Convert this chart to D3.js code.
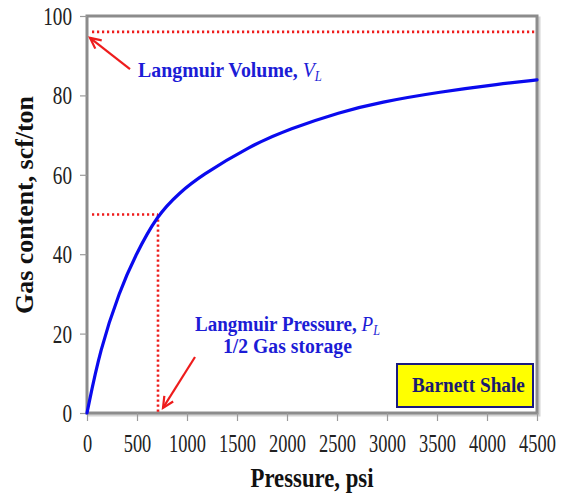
<!DOCTYPE html>
<html>
<head>
<meta charset="utf-8">
<script src="https://cdn.jsdelivr.net/npm/d3@7"></script>
<style>
  html, body { margin: 0; padding: 0; background: #fff; }
  svg { display: block; }
  svg text { font-family: "Liberation Serif", "Times New Roman", serif; }
</style>
</head>
<body>
<svg id="chart" width="562" height="498"></svg>
<script>
// Barnett Shale Langmuir isotherm: gas content vs pressure
const pressure = [0, 130, 330, 480, 700, 930, 1130, 1630, 2030, 2530, 2930, 3530, 4130, 4500];
const gasContent = [0, 16, 31, 39.5, 49.8, 55.6, 59.6, 67.3, 71.6, 75.8, 78.3, 80.9, 82.9, 83.9];

const xTicks = [0, 500, 1000, 1500, 2000, 2500, 3000, 3500, 4000, 4500];
const yTicks = [0, 20, 40, 60, 80, 100];

const langmuirVolume = 96;    // V_L, scf/ton
const langmuirPressure = 710; // P_L, psi
const halfStorage = 50;       // gas content at P_L

const svg = d3.select("#chart");
const plot = { left: 87, right: 537, top: 16, bottom: 413 };

const x = d3.scaleLinear().domain([0, 4500]).range([plot.left, plot.right]);
const y = d3.scaleLinear().domain([0, 100]).range([plot.bottom, plot.top]);

const serif = "'Liberation Serif', 'Times New Roman', serif";

// squeeze a text element horizontally to a given width around its anchor
function squeeze(sel, px, py, w, rotate) {
  const natural = sel.node().getComputedTextLength();
  const k = w / natural;
  sel.attr("x", null).attr("y", null)
    .attr("transform", `translate(${px},${py})` + (rotate ? ` rotate(${rotate})` : "") + ` scale(${k},1)`);
  return sel;
}

// frame with a soft shadow
svg.append("rect")
  .attr("x", plot.left + 2).attr("y", plot.top + 2)
  .attr("width", plot.right - plot.left).attr("height", plot.bottom - plot.top)
  .attr("fill", "none").attr("stroke", "#d4d4d4").attr("stroke-width", 3);
svg.append("rect")
  .attr("x", plot.left).attr("y", plot.top)
  .attr("width", plot.right - plot.left).attr("height", plot.bottom - plot.top)
  .attr("fill", "#fff").attr("stroke", "#8c8c8c").attr("stroke-width", 3);

// axes
const xAxis = svg.append("g")
  .attr("transform", `translate(0,${plot.bottom})`)
  .call(d3.axisBottom(x).tickValues(xTicks).tickSize(8).tickFormat(d3.format("d")));
const yAxis = svg.append("g")
  .attr("transform", `translate(${plot.left},0)`)
  .call(d3.axisLeft(y).tickValues(yTicks).tickSize(7).tickFormat(d3.format("d")));

[xAxis, yAxis].forEach(g => {
  g.attr("font-family", serif);
  g.select(".domain").remove();
  g.selectAll(".tick line").attr("stroke", "#9a9a9a").attr("stroke-width", 1.2);
  g.selectAll(".tick text")
    .attr("fill", "#222")
    .attr("font-family", serif)
    .attr("font-size", 25)
    .attr("dy", null);
});
xAxis.selectAll(".tick text").each(function () {
  const t = d3.select(this);
  squeeze(t, 0, 39, t.text().length * 9.2);
});
yAxis.selectAll(".tick text").each(function () {
  const t = d3.select(this);
  squeeze(t, -15, 8.5, t.text().length * 9.6);
});

// axis titles
squeeze(svg.append("text")
  .attr("text-anchor", "middle")
  .attr("font-weight", "bold").attr("font-size", 27).attr("fill", "#111")
  .text("Pressure, psi"), (plot.left + plot.right) / 2, 487, 123);

squeeze(svg.append("text")
  .attr("text-anchor", "middle")
  .attr("font-weight", "bold").attr("font-size", 26).attr("fill", "#111")
  .text("Gas content, scf/ton"), 33, 205, 218, -90);

// Langmuir reference lines
const red = "#ee1c1c";
function refLine(x1, y1, x2, y2) {
  return svg.append("line")
    .attr("x1", x1).attr("y1", y1).attr("x2", x2).attr("y2", y2)
    .attr("stroke", red).attr("stroke-width", 2.6).attr("stroke-dasharray", "2.2,2.8");
}
refLine(x(50), y(langmuirVolume), x(4500), y(langmuirVolume));
refLine(x(50), y(halfStorage), x(langmuirPressure), y(halfStorage));
refLine(x(langmuirPressure), y(halfStorage), x(langmuirPressure), y(0));

// isotherm curve
const line = d3.line()
  .x((d, i) => x(pressure[i]))
  .y((d, i) => y(gasContent[i]))
  .curve(d3.curveBasis);
svg.append("path")
  .datum(pressure)
  .attr("d", line)
  .attr("fill", "none")
  .attr("stroke", "#0a0aee")
  .attr("stroke-width", 3.2)
  .attr("stroke-linecap", "round");

// annotation arrows (tail -> head, in data units)
const arrows = [
  { from: [430, 86.6], to: [30, 94.5] },
  { from: [1080, 14.1], to: [760, 1.3] }
];
arrows.forEach(a => {
  const x1 = x(a.from[0]), y1 = y(a.from[1]), x2 = x(a.to[0]), y2 = y(a.to[1]);
  svg.append("line").attr("x1", x1).attr("y1", y1).attr("x2", x2).attr("y2", y2)
    .attr("stroke", red).attr("stroke-width", 2.2);
  const ang = Math.atan2(y2 - y1, x2 - x1);
  const len = 12, spread = 0.45;
  const pts = [
    [x2 - len * Math.cos(ang - spread), y2 - len * Math.sin(ang - spread)],
    [x2, y2],
    [x2 - len * Math.cos(ang + spread), y2 - len * Math.sin(ang + spread)]
  ];
  svg.append("path").attr("d", d3.line()(pts))
    .attr("fill", "none").attr("stroke", red).attr("stroke-width", 2.2);
});

// annotation text: bold words followed by an italic symbol with subscript
const blue = "#1c1cd6";
function symbolLabel(px, py, words, sym, sub, w) {
  const t = svg.append("text").attr("fill", blue).attr("font-size", 22);
  t.append("tspan").attr("font-weight", "bold").text(words + " ");
  t.append("tspan").attr("font-style", "italic").text(sym);
  t.append("tspan").attr("font-style", "italic").attr("font-size", 14).attr("dy", 4).text(sub);
  return squeeze(t, px, py, w);
}
function plainLabel(px, py, str, w) {
  const t = svg.append("text").attr("fill", blue).attr("font-size", 22)
    .attr("font-weight", "bold").text(str);
  return squeeze(t, px, py, w);
}
symbolLabel(138, 77, "Langmuir Volume,", "V", "L", 184);
symbolLabel(195, 331, "Langmuir Pressure,", "P", "L", 185);
plainLabel(223, 353, "1/2 Gas storage", 129);

// legend tag
svg.append("rect")
  .attr("x", 397).attr("y", 364).attr("width", 136).attr("height", 43)
  .attr("fill", "#ffff00").attr("stroke", "#1a1a80").attr("stroke-width", 2);
squeeze(svg.append("text")
  .attr("font-weight", "bold").attr("font-size", 21).attr("fill", "#1a1a70")
  .text("Barnett Shale"), 412, 392, 113);
</script>
</body>
</html>
